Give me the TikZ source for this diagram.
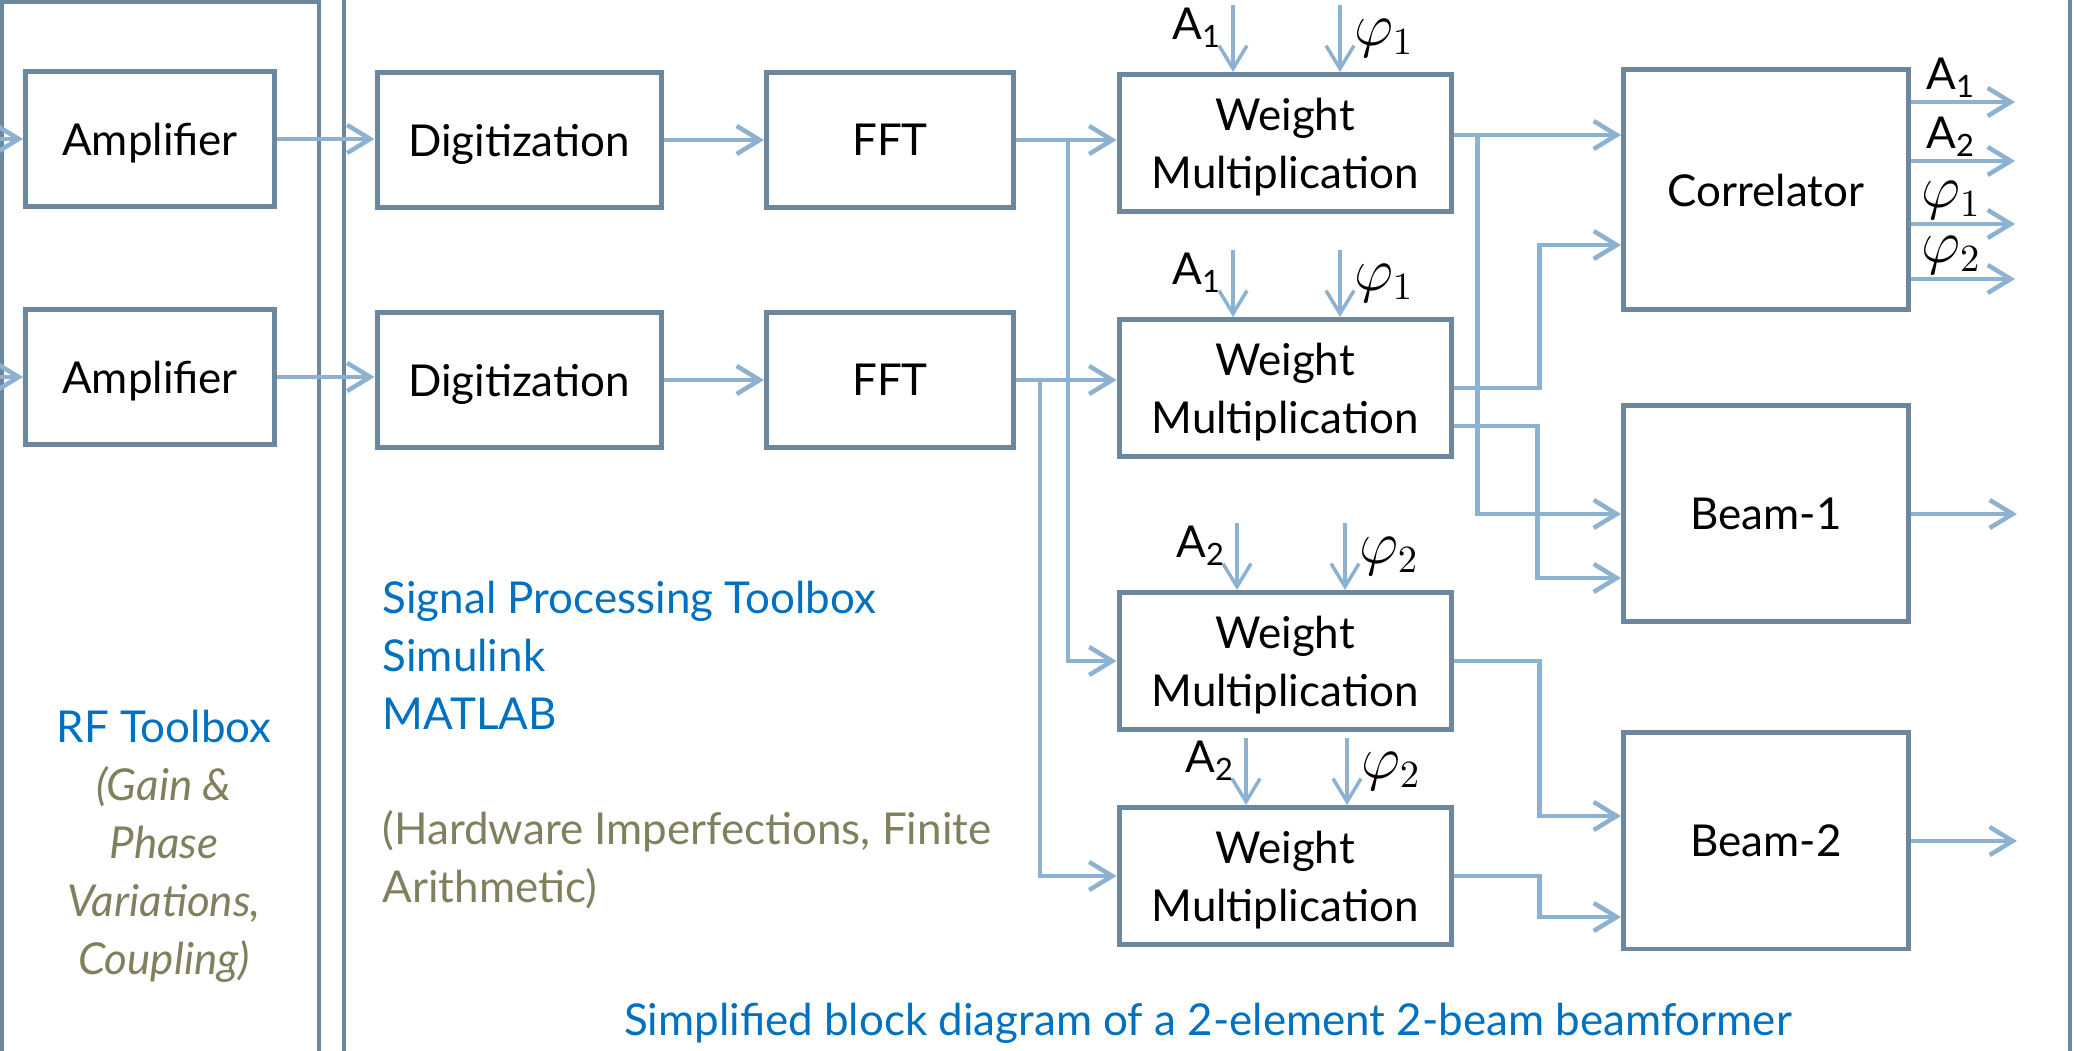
\documentclass[tikz,border=0pt]{standalone}
\usepackage{fontspec}
\setmainfont{Lato}
\usetikzlibrary{arrows.meta,calc}

\definecolor{boxgray}{RGB}{108,135,158}
\definecolor{linkblue}{RGB}{141,177,208}
\definecolor{toolblue}{RGB}{0,112,192}
\definecolor{noteolive}{RGB}{128,128,94}

\newcommand{\blockfont}{\fontsize{12.5}{16.5}\selectfont}
\newcommand{\phitag}[1]{{\fontsize{16}{16}\selectfont$\varphi_{#1}$}}

\begin{document}
\begin{tikzpicture}[x=0.1mm, y=-0.1mm,
    block/.style   = {draw=boxgray, line width=0.5mm, fill=white,
      font=\blockfont, align=center, inner sep=0pt, text depth=-1pt},
    amp/.style     = {block, minimum width=24.9mm, minimum height=13.5mm},
    digit/.style   = {block, minimum width=28.4mm, minimum height=13.5mm},
    fftbox/.style  = {block, minimum width=24.7mm, minimum height=13.5mm},
    weight/.style  = {block, minimum width=33.2mm, minimum height=13.7mm},
    corrbox/.style = {block, minimum width=28.5mm, minimum height=24mm},
    beam/.style    = {block, minimum width=28.5mm, minimum height=21.6mm},
    link/.style    = {draw=linkblue, line width=0.45mm,
      -{Straight Barb[length=2.3mm,width=2.8mm]}},
    weightin/.style = {link, line width=0.35mm},
    panel/.style   = {draw=boxgray, line width=0.45mm},
    tag/.style     = {font=\blockfont, inner sep=0pt},
    toolnote/.style = {font=\blockfont, text=toolblue, align=left, inner sep=0pt},
    hwnote/.style  = {font=\blockfont, text=noteolive, align=left, inner sep=0pt},
  ]
  \useasboundingbox (0,0) rectangle (2074,1051);

  % panels
  \draw[panel] (2,1070) -- (2,2) -- (319,2) -- (319,1070);
  \draw[panel] (344,1070) -- (344,-20);
  \draw[panel] (2070,-20) -- (2070,1070);

  % blocks
  \node[amp] (amp1) at (150,139) {Amplifier};
  \node[amp] (amp2) at (150,377) {Amplifier};
  \node[digit] (dig1) at (519,140) {Digitization};
  \node[digit] (dig2) at (519,380) {Digitization};
  \node[fftbox] (fft1) at (890,140) {FFT};
  \node[fftbox] (fft2) at (890,380) {FFT};
  \node[weight] (wm1) at (1285,143) {Weight\\Multiplication};
  \node[weight] (wm2) at (1285,388) {Weight\\Multiplication};
  \node[weight] (wm3) at (1285,661) {Weight\\Multiplication};
  \node[weight] (wm4) at (1285,876) {Weight\\Multiplication};
  \node[corrbox] (corr) at (1766,190) {Correlator};
  \node[beam] (beam1) at (1766,514) {Beam-1};
  \node[beam] (beam2) at (1766,841) {Beam-2};

  % element chains
  \coordinate (rfIn1) at (-30,139);
  \coordinate (rfIn2) at (-30,377);
  \draw[link] (rfIn1) -- (amp1.west);
  \draw[link] (rfIn2) -- (amp2.west);
  \draw[link] (amp1.east) -- (amp1.east -| dig1.west);
  \draw[link] (amp2.east) -- (amp2.east -| dig2.west);
  \draw[link] (dig1.east) -- (dig1.east -| fft1.west);
  \draw[link] (dig2.east) -- (dig2.east -| fft2.west);
  \draw[link] (fft1.east) -- (fft1.east -| wm1.west);
  \draw[link] (fft2.east) -- (fft2.east -| wm2.west);
  \draw[link] ($(fft1.east)+(52,0)$) |- (wm3.west);
  \draw[link] ($(fft2.east)+(24,0)$) |- (wm4.west);

  % weights
  \foreach \w/\n/\ax/\px in {wm1/1/-52/55, wm2/1/-52/55, wm3/2/-48/60, wm4/2/-39/62} {
    \coordinate (\w-a) at ($(\w.north)+(\ax,-67)$);
    \coordinate (\w-p) at ($(\w.north)+(\px,-67)$);
    \draw[weightin] (\w-a) -- (\w-a |- \w.north);
    \draw[weightin] (\w-p) -- (\w-p |- \w.north);
    \node[tag] (\w-atag) at ($(\w-a)+(-36,23)$) {A\textsubscript{\n}};
    \node[tag] (\w-ptag) at ($(\w-p)+(44,33)$) {\phitag{\n}};
  }

  % beam forming
  \coordinate (wm1out) at ($(wm1.east)+(0,-8)$);
  \draw[link] (wm1out) -- (wm1out -| corr.west);
  \draw[link] ($(wm1out)+(24,0)$) |- (beam1.west);
  \coordinate (corrIn2) at ($(corr.west)+(0,55)$);
  \draw[link] (wm2.east) -- ++(86,0) |- (corrIn2);
  \coordinate (wm2out2) at ($(wm2.east)+(0,38)$);
  \coordinate (beam1In2) at ($(beam1.west)+(0,64)$);
  \draw[link] (wm2out2) -- ++(84,0) |- (beam1In2);
  \coordinate (beam2In1) at ($(beam2.west)+(0,-25)$);
  \coordinate (beam2In2) at ($(beam2.west)+(0,76)$);
  \draw[link] (wm3.east) -- ++(86,0) |- (beam2In1);
  \draw[link] (wm4.east) -- ++(86,0) |- (beam2In2);

  \foreach \i/\dy/\txt in {1/-88/{A\textsubscript{1}}, 2/-29/{A\textsubscript{2}},
      3/34/{\phitag{1}}, 4/89/{\phitag{2}}} {
    \coordinate (corrOut\i) at ($(corr.east)+(104,\dy)$);
    \draw[link] (corr.east |- corrOut\i) -- (corrOut\i);
    \node[tag] (corrTag\i) at ($(corr.east)+(40,\dy-24)$) {\txt};
  }
  \coordinate (beam1Out) at ($(beam1.east)+(106,0)$);
  \coordinate (beam2Out) at ($(beam2.east)+(106,0)$);
  \draw[link] (beam1.east) -- (beam1Out);
  \draw[link] (beam2.east) -- (beam2Out);

  % notes
  \node[font=\blockfont, align=center, inner sep=0pt] (rfNote) at (164,846)
    {\textcolor{toolblue}{RF Toolbox}\\
     \textcolor{noteolive}{\itshape (Gain \&}\\
     \textcolor{noteolive}{\itshape Phase}\\
     \textcolor{noteolive}{\itshape Variations,}\\
     \textcolor{noteolive}{\itshape Coupling)}};
  \node[toolnote, anchor=west] (toolNote) at (382,655)
    {Signal Processing Toolbox\\Simulink\\MATLAB};
  \node[hwnote, anchor=west] (hwNote) at (382,860)
    {(Hardware Imperfections, Finite\\Arithmetic)};
  \node[tag, text=toolblue] (caption) at (1208,1023)
    {Simplified block diagram of a 2-element 2-beam beamformer};
\end{tikzpicture}
\end{document}
